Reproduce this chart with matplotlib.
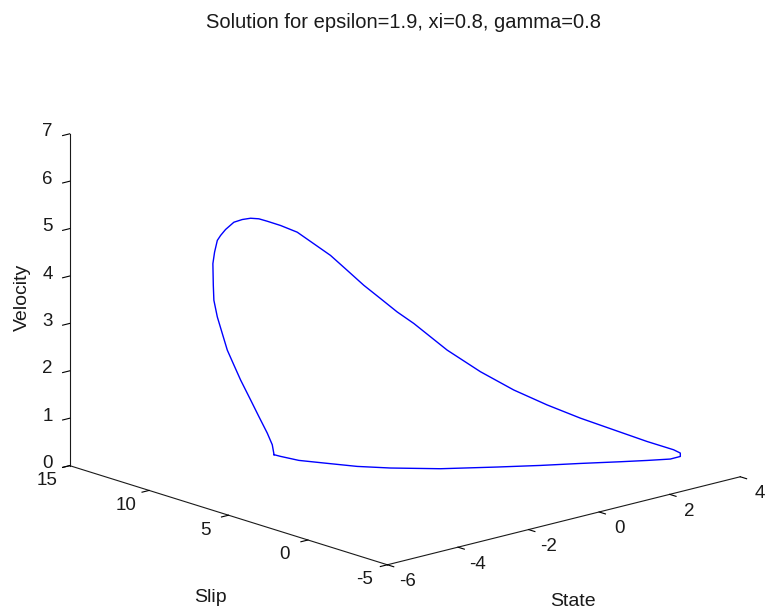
import matplotlib
matplotlib.use('Agg')
import matplotlib.pyplot as plt
import numpy as np
from mpl_toolkits.mplot3d import proj3d

plt.rcParams['font.family'] = ['Liberation Sans', 'DejaVu Sans']

# limit cycle (state, slip, velocity)
state = [-2.480, -2.508, -2.587, -2.719, -2.849, -3.007, -3.112, -3.216, -3.295, -3.373,
         -3.427, -3.436, -3.443, -3.416, -3.373, -3.321, -3.243, -3.112, -2.980, -2.849,
         -2.719, -2.587, -2.377, -2.115, -1.854, -1.591, -1.328, -1.067, -0.804, -0.542,
         -0.280, 0.245, 0.769, 1.293, 1.818, 2.342, 2.866, 3.391, 3.810, 3.915,
         3.842, 3.553, 3.116, 2.630, 1.915, 1.184, 0.422, -0.556, -1.307, -1.750,
         -2.103, -2.365, -2.451, -2.480]
slip = [9.954, 10.004, 10.144, 10.379, 10.611, 10.891, 11.078, 11.263, 11.403, 11.542,
        11.638, 11.654, 11.665, 11.618, 11.542, 11.450, 11.310, 11.078, 10.843, 10.611,
        10.379, 10.144, 9.772, 9.305, 8.841, 8.374, 7.907, 7.442, 6.975, 6.508,
        6.044, 5.110, 4.179, 3.247, 2.313, 1.382, 0.451, -0.483, -1.227, -1.415,
        -1.578, -1.590, -1.096, -0.495, 0.433, 1.328, 2.359, 3.754, 5.231, 6.342,
        7.657, 8.648, 9.609, 9.954]
velocity = [0.105, 0.315, 0.561, 0.910, 1.261, 1.682, 1.997, 2.312, 2.663, 3.012,
            3.363, 3.679, 4.135, 4.379, 4.625, 4.730, 4.856, 5.009, 5.066, 5.093,
            5.081, 5.030, 4.940, 4.799, 4.555, 4.309, 3.994, 3.679, 3.399, 3.117,
            2.874, 2.312, 1.856, 1.471, 1.156, 0.877, 0.631, 0.385, 0.210, 0.141,
            0.100, 0.100, 0.100, 0.100, 0.100, 0.100, 0.100, 0.100, 0.100, 0.100,
            0.100, 0.100, 0.100, 0.105]

state_ticks = [-6, -4, -2, 0, 2, 4]
slip_ticks = [-5, 0, 5, 10, 15]
velocity_ticks = [0, 1, 2, 3, 4, 5, 6, 7]

txt = '#1a1a1a'
fig = plt.figure(figsize=(7.65, 6.13), dpi=100)
ax = fig.add_axes([0.1, 0.1, 0.8, 0.8], projection='3d', proj_type='ortho')
ax.view_init(elev=16.2, azim=-131.8)
ax.set_box_aspect((1, 1.007, 0.73))

ax.plot(state, slip, velocity, color='#0000ff', lw=1.0)

ax.set_xlim(-6, 4)
ax.set_ylim(-5, 15)
ax.set_zlim(0, 7)
ax.set_xticks(state_ticks)
ax.set_yticks(slip_ticks)
ax.set_zticks(velocity_ticks)
ax.grid(False)
for a in (ax.xaxis, ax.yaxis, ax.zaxis):
    a.set_tick_params(labelbottom=False, labelleft=False)
    a.set_pane_color((1, 1, 1, 0))
    a.line.set_color(txt)
    a.line.set_linewidth(0.8)
    a._axinfo['tick']['inward_factor'] = 0.25
    a._axinfo['tick']['outward_factor'] = 0.0
    a._axinfo['tick']['color'] = txt

# tick labels, MATLAB style (horizontal, offset below/left of each axis)
for t in slip_ticks:
    ax.text(-6.652, t, -0.195, str(t), ha='center', va='center', fontsize=13.5, color=txt)
for t in state_ticks:
    ax.text(t, -6.258, -0.227, str(t), ha='center', va='center', fontsize=13.5, color=txt)
for t in velocity_ticks:
    ax.text(-6.245, 15.839, t, str(t), ha='center', va='center', fontsize=13.5, color=txt)

ax.text(-6.85, 4.25, -1.5, 'Slip', ha='center', va='center', fontsize=14, color=txt)
ax.text(-1.34, -6.35, -1.5, 'State', ha='center', va='center', fontsize=14, color=txt)
ax.text(-6.61, 16.6, 3.5, 'Velocity', zdir='z', ha='center', va='center',
        fontsize=14, color=txt)

fig.text(0.527, 0.964, 'Solution for epsilon=1.9, xi=0.8, gamma=0.8',
         ha='center', va='center', fontsize=14.5, color=txt)

# place the axes box so its corners sit where they are in the reference
fig.canvas.draw()
corners = [(-6, 15, 0), (-6, -5, 0), (4, -5, 0), (-6, 15, 7)]
targets = [(70, 466), (387, 565), (740, 477), (70, 133)]
W, H = fig.bbox.width, fig.bbox.height
bb = ax.bbox
M = ax.get_proj()
rows, rhs = [], []
for (cx, cy, cz), (tx, ty) in zip(corners, targets):
    px, py, _ = proj3d.proj_transform(cx, cy, cz, M)
    dx, dy = ax.transData.transform((px, py))
    rows.append([(dx - bb.x0) / bb.width, 1, 0]); rhs.append(tx)
    rows.append([(dy - bb.y0) / bb.height, 0, 1]); rhs.append(H - ty)
S, L, B = np.linalg.lstsq(np.array(rows), np.array(rhs), rcond=None)[0]
ax.set_position([L / W, B / H, S / W, S / H])

fig.savefig('out.png', dpi=100)
